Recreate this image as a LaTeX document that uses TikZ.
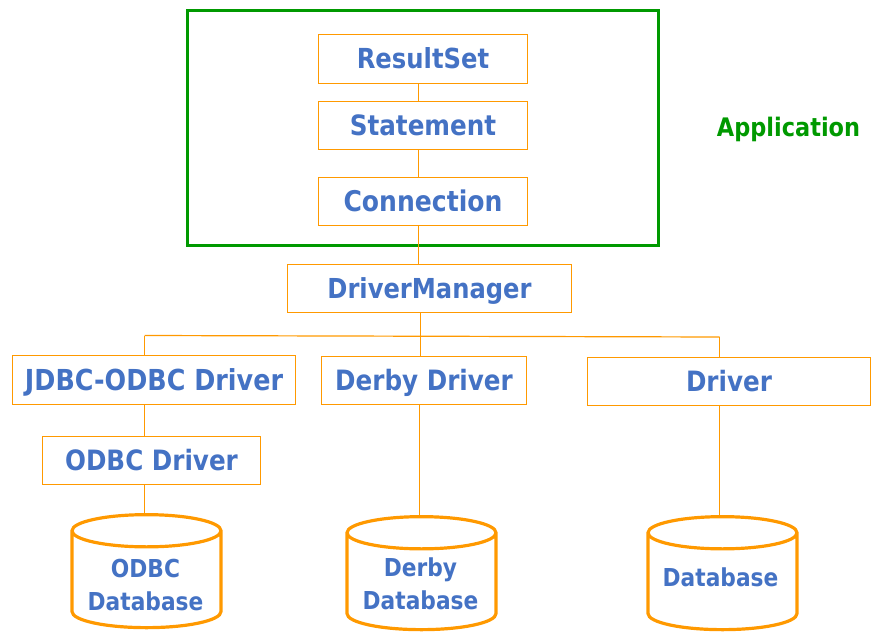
\documentclass[tikz,border=0pt]{standalone}
\usepackage{fontspec}
\setmainfont{DejaVu Sans}[FakeStretch=0.88]
\usetikzlibrary{shapes.geometric}
\definecolor{ora}{HTML}{FF9900}
\definecolor{blu}{HTML}{4472C4}
\definecolor{grn}{HTML}{009900}
\tikzset{
  box/.style={draw=ora,line width=1.2pt,inner sep=0pt,outer sep=0pt,anchor=north west,text=blu,font=\bfseries\fontsize{28}{33}\selectfont,align=center,text height=26pt,text depth=6pt},
  link/.style={draw=ora,line width=1.2pt},
  db/.style={draw=ora,line width=3.2pt,cylinder,shape border rotate=90,aspect=0.23,minimum width=149pt,minimum height=113pt,inner sep=0pt,outer sep=0pt,text width=140pt,font=\fontsize{26}{33}\selectfont,align=center},
  dbtext/.style={text=blu,font=\bfseries\fontsize{24.7}{33}\selectfont,align=center,inner sep=0pt},
  frame/.style={draw=grn,line width=3pt,inner sep=0pt,outer sep=0pt,anchor=north west},
}
\begin{document}
\begin{tikzpicture}[x=1pt,y=-1pt]
\useasboundingbox (0,0) rectangle (885,644);
\node[frame,minimum width=471pt,minimum height=234pt] (app) at (187,11) {};
\node[text=grn,font=\bfseries\fontsize{25.5}{30}\selectfont,text height=22pt,text depth=5pt] (applbl) at (788.5,128.5) {Application};
\node[box,minimum width=209pt,minimum height=49pt,font=\bfseries\fontsize{27.6}{33}\selectfont] (rs) at (318.5,34.5) {ResultSet};
\node[box,minimum width=209pt,minimum height=48pt] (st) at (318.5,101.5) {Statement};
\node[box,minimum width=209pt,minimum height=48pt,font=\bfseries\fontsize{28.5}{33}\selectfont] (cn) at (318.5,177.5) {Connection};
\node[box,minimum width=284pt,minimum height=48pt,font=\bfseries\fontsize{27.5}{33}\selectfont] (dm) at (287.5,264.5) {DriverManager};
\node[box,minimum width=283pt,minimum height=49pt,font=\bfseries\fontsize{28.9}{33}\selectfont] (jd) at (12.5,355.5) {JDBC-ODBC Driver};
\node[box,minimum width=205pt,minimum height=48pt] (dd) at (321.5,356.5) {Derby Driver};
\node[box,minimum width=283pt,minimum height=48pt] (dr) at (587.5,357.5) {Driver};
\node[box,minimum width=218pt,minimum height=48pt] (od) at (42.5,436.5) {ODBC Driver};
\node[db] (c1) at (146.5,580) {~};
\node[db] (c2) at (421.5,582) {~};
\node[db] (c3) at (722.5,582) {~};
\node[dbtext] (t1) at (145.5,585.5) {ODBC\\Database};
\node[dbtext] (t2) at (420.5,583.5) {Derby\\Database};
\node[dbtext] (t3) at (720.5,577.5) {Database};
\coordinate (xa) at (418.5,0);
\coordinate (xb) at (420.5,0);
\coordinate (xl) at (144.5,0);
\coordinate (xd) at (419.5,0);
\coordinate (xr) at (719.5,0);
\coordinate (busl) at (144.5,335.5);
\coordinate (busr) at (719.5,337);
\draw[link] (rs.south -| xa) -- (st.north -| xa);
\draw[link] (st.south -| xa) -- (cn.north -| xa);
\draw[link] (cn.south -| xa) -- (dm.north -| xa);
\draw[link] (dm.south -| xb) -- (dd.north -| xb);
\draw[link] (busl) -- (busr);
\draw[link] (busl) -- (jd.north -| busl);
\draw[link] (busr) -- (dr.north -| busr);
\draw[link] (jd.south -| xl) -- (od.north -| xl);
\draw[link] (od.south -| xl) -- (c1.north -| xl);
\draw[link] (dd.south -| xd) -- (c2.north -| xd);
\draw[link] (dr.south -| xr) -- (c3.north -| xr);
\end{tikzpicture}
\end{document}
